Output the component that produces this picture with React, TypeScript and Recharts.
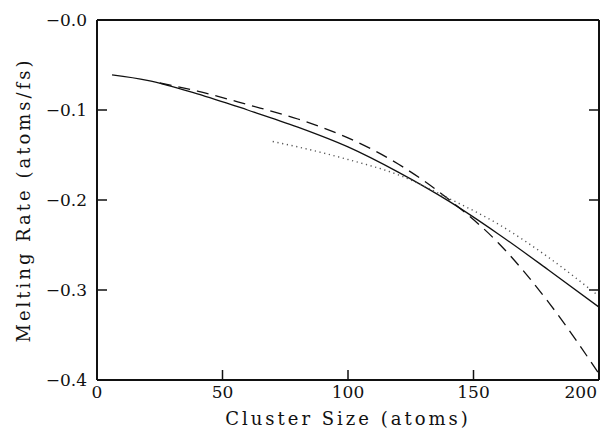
import * as React from "react";
import {
  LineChart,
  Line,
  XAxis,
  YAxis,
  ReferenceLine,
} from "recharts";

// cluster size (atoms) vs melting rate (atoms/fs)
const solidX = [6, 20, 40, 60, 80, 100, 120, 140, 160, 180, 200];
const solidY = [-0.061, -0.067, -0.082, -0.1, -0.119, -0.141, -0.169, -0.201, -0.238, -0.278, -0.319];

const dashX = [25, 40, 60, 80, 100, 120, 140, 160, 180, 200];
const dashY = [-0.07, -0.079, -0.094, -0.11, -0.131, -0.16, -0.199, -0.248, -0.314, -0.393];

const dotX = [70, 80, 100, 120, 140, 160, 180, 200];
const dotY = [-0.135, -0.141, -0.155, -0.172, -0.198, -0.227, -0.264, -0.307];

const xTicks = [0, 50, 100, 150, 200];
const yTicks = [0, -0.1, -0.2, -0.3, -0.4];

const X_MIN = 0;
const X_MAX = 200;
const Y_MIN = -0.4;
const Y_MAX = 0;

const toRows = (xs: number[], ys: number[]) => xs.map((x, i) => ({ x, y: ys[i] }));

const FONT = "'DejaVu Serif', serif";
const INK = "#111";
const TICK_DX = 4; // ~10px in x units

const fmtY = (v: number) => "\u2212" + Math.abs(v).toFixed(1);

// bottom ticks point up into the plot
const XTick = (props: any) => {
  const { x, y, payload } = props;
  const last = payload.value === X_MAX;
  const axisY = y - 6;
  return (
    <g>
      {payload.value > X_MIN && payload.value < X_MAX && (
        <path d={`M${x},${axisY}V${axisY - 10}`} stroke={INK} strokeWidth={1.5} />
      )}
      <text
        x={last ? x + 4 : x}
        y={y}
        dy="0.71em"
        textAnchor={last ? "end" : "middle"}
        fontFamily={FONT}
        fontSize={17}
        fill={INK}
      >
        {payload.value}
      </text>
    </g>
  );
};

export default function App() {
  const innerY = yTicks.filter((t) => t > Y_MIN && t < Y_MAX);
  return (
    <div style={{ position: "absolute", left: 0, top: 0, background: "#fff" }}>
      <LineChart
        width={605}
        height={428}
        margin={{ top: 20, right: 5, bottom: 0, left: 0 }}
      >
        <XAxis
          dataKey="x"
          type="number"
          domain={[X_MIN, X_MAX]}
          ticks={xTicks}
          allowDataOverflow
          height={48}
          tickSize={0}
          tickMargin={6}
          tick={<XTick />}
          axisLine={{ stroke: INK, strokeWidth: 2 }}
          tickLine={false}
          label={{
            value: "Cluster Size (atoms)",
            position: "insideBottom",
            offset: 3,
            style: { fontFamily: FONT, fontSize: 18, fill: INK, letterSpacing: 3 },
          }}
        />
        <YAxis
          yAxisId="left"
          dataKey="y"
          type="number"
          domain={[Y_MIN, Y_MAX]}
          ticks={yTicks}
          width={97}
          tickSize={0}
          tickMargin={10}
          tickFormatter={fmtY}
          tick={{ fontFamily: FONT, fontSize: 17, fill: INK }}
          axisLine={{ stroke: INK, strokeWidth: 2 }}
          tickLine={false}
          label={{
            value: "Melting Rate (atoms/fs)",
            angle: -90,
            position: "insideLeft",
            offset: 24,
            style: { textAnchor: "middle", fontFamily: FONT, fontSize: 18, fill: INK, letterSpacing: 3 },
          }}
        />
        <YAxis
          yAxisId="right"
          orientation="right"
          type="number"
          domain={[Y_MIN, Y_MAX]}
          ticks={yTicks}
          width={1}
          tick={false}
          tickLine={false}
          axisLine={{ stroke: INK, strokeWidth: 2 }}
        />
        <ReferenceLine yAxisId="left" y={Y_MAX} stroke={INK} strokeWidth={2} />
        {innerY.map((t) => (
          <ReferenceLine
            key={"l" + t}
            yAxisId="left"
            ifOverflow="visible"
            segment={[{ x: X_MIN, y: t }, { x: X_MIN + TICK_DX, y: t }]}
            stroke={INK}
            strokeWidth={1.5}
          />
        ))}
        {innerY.map((t) => (
          <ReferenceLine
            key={"r" + t}
            yAxisId="left"
            ifOverflow="visible"
            segment={[{ x: X_MAX - TICK_DX, y: t }, { x: X_MAX, y: t }]}
            stroke={INK}
            strokeWidth={1.5}
          />
        ))}
        <Line
          yAxisId="left"
          data={toRows(solidX, solidY)}
          dataKey="y"
          type="monotone"
          stroke={INK}
          strokeWidth={1.3}
          dot={false}
          isAnimationActive={false}
        />
        <Line
          yAxisId="left"
          data={toRows(dashX, dashY)}
          dataKey="y"
          type="monotone"
          stroke={INK}
          strokeWidth={1.3}
          strokeDasharray="12 7"
          dot={false}
          isAnimationActive={false}
        />
        <Line
          yAxisId="left"
          data={toRows(dotX, dotY)}
          dataKey="y"
          type="monotone"
          stroke="#555"
          strokeWidth={1.4}
          strokeDasharray="1.2 3.6"
          dot={false}
          isAnimationActive={false}
        />
      </LineChart>
    </div>
  );
}
